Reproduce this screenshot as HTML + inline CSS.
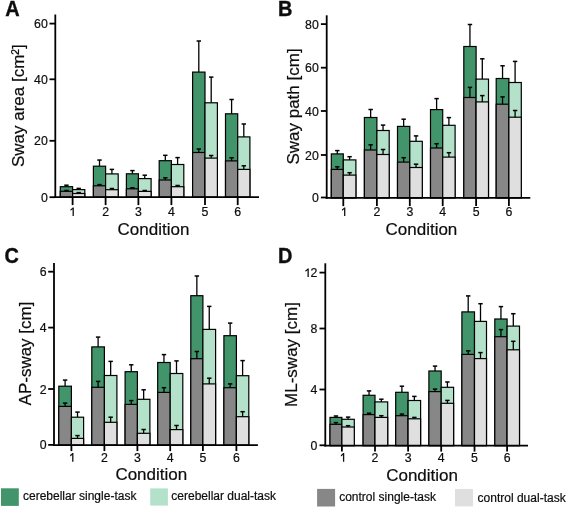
<!DOCTYPE html>
<html><head><meta charset="utf-8"><style>
html,body{margin:0;padding:0;background:#fff;width:567px;height:508px;overflow:hidden}
svg{display:block}
text{font-family:"Liberation Sans",sans-serif;fill:#0d0d0d;stroke:#0d0d0d;stroke-width:0.2px}
svg{will-change:transform}
.tk{font-size:12.3px}
.ct{font-size:17px}
.yl{font-size:17px}
.pl{font-size:21px;font-weight:bold;stroke-width:0.35px}
.lg{font-size:12px}
</style></head><body>
<svg width="567" height="508" viewBox="0 0 567 508">
<rect width="567" height="508" fill="#fff"/>
<g stroke="#000" stroke-width="1.3"><line x1="66.45" y1="186.7" x2="66.45" y2="185.2"/><line x1="64.25" y1="185.2" x2="68.65" y2="185.2" stroke-width="1.5"/></g>
<rect x="60.3" y="186.7" width="12.3" height="10.4" fill="#42946a" stroke="#000" stroke-width="1.2"/>
<rect x="60.3" y="191.3" width="12.3" height="5.8" fill="#878787" stroke="#000" stroke-width="1.2"/>
<g stroke="#000" stroke-width="1.3"><line x1="66.45" y1="191.3" x2="66.45" y2="190.5"/><line x1="64.25" y1="190.5" x2="68.65" y2="190.5" stroke-width="1.5"/></g>
<g stroke="#000" stroke-width="1.3"><line x1="78.7" y1="189.6" x2="78.7" y2="188.4"/><line x1="76.5" y1="188.4" x2="80.9" y2="188.4" stroke-width="1.5"/></g>
<rect x="72.6" y="189.6" width="12.2" height="7.5" fill="#b3e1ca" stroke="#000" stroke-width="1.2"/>
<rect x="72.6" y="193.5" width="12.2" height="3.6" fill="#dfdfdf" stroke="#000" stroke-width="1.2"/>
<g stroke="#000" stroke-width="1.3"><line x1="78.7" y1="193.5" x2="78.7" y2="192.6"/><line x1="76.5" y1="192.6" x2="80.9" y2="192.6" stroke-width="1.5"/></g>
<g stroke="#000" stroke-width="1.3"><line x1="99.5" y1="166.2" x2="99.5" y2="160.05"/><line x1="97.3" y1="160.05" x2="101.7" y2="160.05" stroke-width="1.5"/></g>
<rect x="93.4" y="166.2" width="12.2" height="30.9" fill="#42946a" stroke="#000" stroke-width="1.2"/>
<rect x="93.4" y="185.8" width="12.2" height="11.3" fill="#878787" stroke="#000" stroke-width="1.2"/>
<g stroke="#000" stroke-width="1.3"><line x1="99.5" y1="185.8" x2="99.5" y2="184.6"/><line x1="97.3" y1="184.6" x2="101.7" y2="184.6" stroke-width="1.5"/></g>
<g stroke="#000" stroke-width="1.3"><line x1="111.9" y1="173.9" x2="111.9" y2="169.4"/><line x1="109.7" y1="169.4" x2="114.1" y2="169.4" stroke-width="1.5"/></g>
<rect x="105.6" y="173.9" width="12.6" height="23.2" fill="#b3e1ca" stroke="#000" stroke-width="1.2"/>
<rect x="105.6" y="189.7" width="12.6" height="7.4" fill="#dfdfdf" stroke="#000" stroke-width="1.2"/>
<g stroke="#000" stroke-width="1.3"><line x1="111.9" y1="189.7" x2="111.9" y2="188.5"/><line x1="109.7" y1="188.5" x2="114.1" y2="188.5" stroke-width="1.5"/></g>
<g stroke="#000" stroke-width="1.3"><line x1="132.4" y1="173.8" x2="132.4" y2="170.6"/><line x1="130.2" y1="170.6" x2="134.6" y2="170.6" stroke-width="1.5"/></g>
<rect x="126.4" y="173.8" width="12" height="23.3" fill="#42946a" stroke="#000" stroke-width="1.2"/>
<rect x="126.4" y="188.8" width="12" height="8.3" fill="#878787" stroke="#000" stroke-width="1.2"/>
<g stroke="#000" stroke-width="1.3"><line x1="132.4" y1="188.8" x2="132.4" y2="187.8"/><line x1="130.2" y1="187.8" x2="134.6" y2="187.8" stroke-width="1.5"/></g>
<g stroke="#000" stroke-width="1.3"><line x1="144.75" y1="178.6" x2="144.75" y2="175.2"/><line x1="142.55" y1="175.2" x2="146.95" y2="175.2" stroke-width="1.5"/></g>
<rect x="138.4" y="178.6" width="12.7" height="18.5" fill="#b3e1ca" stroke="#000" stroke-width="1.2"/>
<rect x="138.4" y="191.4" width="12.7" height="5.7" fill="#dfdfdf" stroke="#000" stroke-width="1.2"/>
<g stroke="#000" stroke-width="1.3"><line x1="144.75" y1="191.4" x2="144.75" y2="190.5"/><line x1="142.55" y1="190.5" x2="146.95" y2="190.5" stroke-width="1.5"/></g>
<g stroke="#000" stroke-width="1.3"><line x1="165.3" y1="160.7" x2="165.3" y2="155.3"/><line x1="163.1" y1="155.3" x2="167.5" y2="155.3" stroke-width="1.5"/></g>
<rect x="159.2" y="160.7" width="12.2" height="36.4" fill="#42946a" stroke="#000" stroke-width="1.2"/>
<rect x="159.2" y="180" width="12.2" height="17.1" fill="#878787" stroke="#000" stroke-width="1.2"/>
<g stroke="#000" stroke-width="1.3"><line x1="165.3" y1="180" x2="165.3" y2="177.8"/><line x1="163.1" y1="177.8" x2="167.5" y2="177.8" stroke-width="1.5"/></g>
<g stroke="#000" stroke-width="1.3"><line x1="177.6" y1="164.5" x2="177.6" y2="157.6"/><line x1="175.4" y1="157.6" x2="179.8" y2="157.6" stroke-width="1.5"/></g>
<rect x="171.4" y="164.5" width="12.4" height="32.6" fill="#b3e1ca" stroke="#000" stroke-width="1.2"/>
<rect x="171.4" y="186.7" width="12.4" height="10.4" fill="#dfdfdf" stroke="#000" stroke-width="1.2"/>
<g stroke="#000" stroke-width="1.3"><line x1="177.6" y1="186.7" x2="177.6" y2="185.5"/><line x1="175.4" y1="185.5" x2="179.8" y2="185.5" stroke-width="1.5"/></g>
<g stroke="#000" stroke-width="1.3"><line x1="198.8" y1="72.1" x2="198.8" y2="41"/><line x1="196.6" y1="41" x2="201" y2="41" stroke-width="1.5"/></g>
<rect x="192.6" y="72.1" width="12.4" height="125" fill="#42946a" stroke="#000" stroke-width="1.2"/>
<rect x="192.6" y="152.5" width="12.4" height="44.6" fill="#878787" stroke="#000" stroke-width="1.2"/>
<g stroke="#000" stroke-width="1.3"><line x1="198.8" y1="152.5" x2="198.8" y2="149"/><line x1="196.6" y1="149" x2="201" y2="149" stroke-width="1.5"/></g>
<g stroke="#000" stroke-width="1.3"><line x1="211.2" y1="102.8" x2="211.2" y2="77.1"/><line x1="209" y1="77.1" x2="213.4" y2="77.1" stroke-width="1.5"/></g>
<rect x="205" y="102.8" width="12.4" height="94.3" fill="#b3e1ca" stroke="#000" stroke-width="1.2"/>
<rect x="205" y="158.1" width="12.4" height="39" fill="#dfdfdf" stroke="#000" stroke-width="1.2"/>
<g stroke="#000" stroke-width="1.3"><line x1="211.2" y1="158.1" x2="211.2" y2="155.5"/><line x1="209" y1="155.5" x2="213.4" y2="155.5" stroke-width="1.5"/></g>
<g stroke="#000" stroke-width="1.3"><line x1="231.6" y1="113.8" x2="231.6" y2="99.5"/><line x1="229.4" y1="99.5" x2="233.8" y2="99.5" stroke-width="1.5"/></g>
<rect x="225.5" y="113.8" width="12.2" height="83.3" fill="#42946a" stroke="#000" stroke-width="1.2"/>
<rect x="225.5" y="160.9" width="12.2" height="36.2" fill="#878787" stroke="#000" stroke-width="1.2"/>
<g stroke="#000" stroke-width="1.3"><line x1="231.6" y1="160.9" x2="231.6" y2="157.8"/><line x1="229.4" y1="157.8" x2="233.8" y2="157.8" stroke-width="1.5"/></g>
<g stroke="#000" stroke-width="1.3"><line x1="243.8" y1="136.9" x2="243.8" y2="124"/><line x1="241.6" y1="124" x2="246" y2="124" stroke-width="1.5"/></g>
<rect x="237.7" y="136.9" width="12.2" height="60.2" fill="#b3e1ca" stroke="#000" stroke-width="1.2"/>
<rect x="237.7" y="169.4" width="12.2" height="27.7" fill="#dfdfdf" stroke="#000" stroke-width="1.2"/>
<g stroke="#000" stroke-width="1.3"><line x1="243.8" y1="169.4" x2="243.8" y2="165.8"/><line x1="241.6" y1="165.8" x2="246" y2="165.8" stroke-width="1.5"/></g>
<line x1="55.3" y1="14.5" x2="55.3" y2="198" stroke="#000" stroke-width="1.8"/>
<line x1="54.4" y1="197.1" x2="259" y2="197.1" stroke="#000" stroke-width="1.8"/>
<line x1="49.5" y1="23.6" x2="55.3" y2="23.6" stroke="#000" stroke-width="1.8"/>
<text x="47.8" y="28.1" text-anchor="end" class="tk">60</text>
<line x1="49.5" y1="79.3" x2="55.3" y2="79.3" stroke="#000" stroke-width="1.8"/>
<text x="47.8" y="83.8" text-anchor="end" class="tk">40</text>
<line x1="49.5" y1="140.8" x2="55.3" y2="140.8" stroke="#000" stroke-width="1.8"/>
<text x="47.8" y="145.3" text-anchor="end" class="tk">20</text>
<line x1="49.5" y1="197.2" x2="55.3" y2="197.2" stroke="#000" stroke-width="1.8"/>
<text x="47.8" y="201.7" text-anchor="end" class="tk">0</text>
<line x1="72.6" y1="197.1" x2="72.6" y2="205.1" stroke="#000" stroke-width="1.8"/>
<path d="M73.85 207.4 L73.85 216 L72.55 216 L72.55 209.2 L72.55 209.2 Q71.8 210.1 70.5 210.7 L70.5 209.2 Q71.9 208.5 72.7 207.4 Z" fill="#111"/>
<line x1="105.6" y1="197.1" x2="105.6" y2="205.1" stroke="#000" stroke-width="1.8"/>
<text x="105.6" y="216" text-anchor="middle" class="tk">2</text>
<line x1="138.4" y1="197.1" x2="138.4" y2="205.1" stroke="#000" stroke-width="1.8"/>
<text x="138.4" y="216" text-anchor="middle" class="tk">3</text>
<line x1="171.4" y1="197.1" x2="171.4" y2="205.1" stroke="#000" stroke-width="1.8"/>
<text x="171.4" y="216" text-anchor="middle" class="tk">4</text>
<line x1="205" y1="197.1" x2="205" y2="205.1" stroke="#000" stroke-width="1.8"/>
<text x="205" y="216" text-anchor="middle" class="tk">5</text>
<line x1="237.7" y1="197.1" x2="237.7" y2="205.1" stroke="#000" stroke-width="1.8"/>
<text x="237.7" y="216" text-anchor="middle" class="tk">6</text>
<text x="153.5" y="234.6" text-anchor="middle" class="ct">Condition</text>
<text transform="translate(24.4 105.7) rotate(-90)" text-anchor="middle" class="yl">Sway area [cm²]</text>
<text transform="translate(5.3 15.6) scale(0.95 1.02)" class="pl">A</text>
<g stroke="#000" stroke-width="1.3"><line x1="337.3" y1="153.9" x2="337.3" y2="150.6"/><line x1="335.1" y1="150.6" x2="339.5" y2="150.6" stroke-width="1.5"/></g>
<rect x="331.3" y="153.9" width="12" height="43.9" fill="#42946a" stroke="#000" stroke-width="1.2"/>
<rect x="331.3" y="169.4" width="12" height="28.4" fill="#878787" stroke="#000" stroke-width="1.2"/>
<g stroke="#000" stroke-width="1.3"><line x1="337.3" y1="169.4" x2="337.3" y2="166.8"/><line x1="335.1" y1="166.8" x2="339.5" y2="166.8" stroke-width="1.5"/></g>
<g stroke="#000" stroke-width="1.3"><line x1="349.6" y1="159.9" x2="349.6" y2="156.7"/><line x1="347.4" y1="156.7" x2="351.8" y2="156.7" stroke-width="1.5"/></g>
<rect x="343.3" y="159.9" width="12.6" height="37.9" fill="#b3e1ca" stroke="#000" stroke-width="1.2"/>
<rect x="343.3" y="175.1" width="12.6" height="22.7" fill="#dfdfdf" stroke="#000" stroke-width="1.2"/>
<g stroke="#000" stroke-width="1.3"><line x1="349.6" y1="175.1" x2="349.6" y2="172.7"/><line x1="347.4" y1="172.7" x2="351.8" y2="172.7" stroke-width="1.5"/></g>
<g stroke="#000" stroke-width="1.3"><line x1="370.65" y1="117.5" x2="370.65" y2="109.5"/><line x1="368.45" y1="109.5" x2="372.85" y2="109.5" stroke-width="1.5"/></g>
<rect x="364.4" y="117.5" width="12.5" height="80.3" fill="#42946a" stroke="#000" stroke-width="1.2"/>
<rect x="364.4" y="150" width="12.5" height="47.8" fill="#878787" stroke="#000" stroke-width="1.2"/>
<g stroke="#000" stroke-width="1.3"><line x1="370.65" y1="150" x2="370.65" y2="144.8"/><line x1="368.45" y1="144.8" x2="372.85" y2="144.8" stroke-width="1.5"/></g>
<g stroke="#000" stroke-width="1.3"><line x1="383.05" y1="130.5" x2="383.05" y2="125.1"/><line x1="380.85" y1="125.1" x2="385.25" y2="125.1" stroke-width="1.5"/></g>
<rect x="376.9" y="130.5" width="12.3" height="67.3" fill="#b3e1ca" stroke="#000" stroke-width="1.2"/>
<rect x="376.9" y="154.5" width="12.3" height="43.3" fill="#dfdfdf" stroke="#000" stroke-width="1.2"/>
<g stroke="#000" stroke-width="1.3"><line x1="383.05" y1="154.5" x2="383.05" y2="149.5"/><line x1="380.85" y1="149.5" x2="385.25" y2="149.5" stroke-width="1.5"/></g>
<g stroke="#000" stroke-width="1.3"><line x1="403.65" y1="126.4" x2="403.65" y2="119.2"/><line x1="401.45" y1="119.2" x2="405.85" y2="119.2" stroke-width="1.5"/></g>
<rect x="397.5" y="126.4" width="12.3" height="71.4" fill="#42946a" stroke="#000" stroke-width="1.2"/>
<rect x="397.5" y="162.1" width="12.3" height="35.7" fill="#878787" stroke="#000" stroke-width="1.2"/>
<g stroke="#000" stroke-width="1.3"><line x1="403.65" y1="162.1" x2="403.65" y2="157.7"/><line x1="401.45" y1="157.7" x2="405.85" y2="157.7" stroke-width="1.5"/></g>
<g stroke="#000" stroke-width="1.3"><line x1="416.05" y1="141.3" x2="416.05" y2="135.9"/><line x1="413.85" y1="135.9" x2="418.25" y2="135.9" stroke-width="1.5"/></g>
<rect x="409.8" y="141.3" width="12.5" height="56.5" fill="#b3e1ca" stroke="#000" stroke-width="1.2"/>
<rect x="409.8" y="167.5" width="12.5" height="30.3" fill="#dfdfdf" stroke="#000" stroke-width="1.2"/>
<g stroke="#000" stroke-width="1.3"><line x1="416.05" y1="167.5" x2="416.05" y2="164.2"/><line x1="413.85" y1="164.2" x2="418.25" y2="164.2" stroke-width="1.5"/></g>
<g stroke="#000" stroke-width="1.3"><line x1="436.6" y1="109.6" x2="436.6" y2="98.6"/><line x1="434.4" y1="98.6" x2="438.8" y2="98.6" stroke-width="1.5"/></g>
<rect x="430.5" y="109.6" width="12.2" height="88.2" fill="#42946a" stroke="#000" stroke-width="1.2"/>
<rect x="430.5" y="148" width="12.2" height="49.8" fill="#878787" stroke="#000" stroke-width="1.2"/>
<g stroke="#000" stroke-width="1.3"><line x1="436.6" y1="148" x2="436.6" y2="143.7"/><line x1="434.4" y1="143.7" x2="438.8" y2="143.7" stroke-width="1.5"/></g>
<g stroke="#000" stroke-width="1.3"><line x1="448.9" y1="125.3" x2="448.9" y2="117.6"/><line x1="446.7" y1="117.6" x2="451.1" y2="117.6" stroke-width="1.5"/></g>
<rect x="442.7" y="125.3" width="12.4" height="72.5" fill="#b3e1ca" stroke="#000" stroke-width="1.2"/>
<rect x="442.7" y="157.1" width="12.4" height="40.7" fill="#dfdfdf" stroke="#000" stroke-width="1.2"/>
<g stroke="#000" stroke-width="1.3"><line x1="448.9" y1="157.1" x2="448.9" y2="152.7"/><line x1="446.7" y1="152.7" x2="451.1" y2="152.7" stroke-width="1.5"/></g>
<g stroke="#000" stroke-width="1.3"><line x1="469.95" y1="46.5" x2="469.95" y2="24.5"/><line x1="467.75" y1="24.5" x2="472.15" y2="24.5" stroke-width="1.5"/></g>
<rect x="463.8" y="46.5" width="12.3" height="151.3" fill="#42946a" stroke="#000" stroke-width="1.2"/>
<rect x="463.8" y="97.5" width="12.3" height="100.3" fill="#878787" stroke="#000" stroke-width="1.2"/>
<g stroke="#000" stroke-width="1.3"><line x1="469.95" y1="97.5" x2="469.95" y2="87.4"/><line x1="467.75" y1="87.4" x2="472.15" y2="87.4" stroke-width="1.5"/></g>
<g stroke="#000" stroke-width="1.3"><line x1="482.3" y1="79.1" x2="482.3" y2="58.8"/><line x1="480.1" y1="58.8" x2="484.5" y2="58.8" stroke-width="1.5"/></g>
<rect x="476.1" y="79.1" width="12.4" height="118.7" fill="#b3e1ca" stroke="#000" stroke-width="1.2"/>
<rect x="476.1" y="101.9" width="12.4" height="95.9" fill="#dfdfdf" stroke="#000" stroke-width="1.2"/>
<g stroke="#000" stroke-width="1.3"><line x1="482.3" y1="101.9" x2="482.3" y2="95.6"/><line x1="480.1" y1="95.6" x2="484.5" y2="95.6" stroke-width="1.5"/></g>
<g stroke="#000" stroke-width="1.3"><line x1="502.55" y1="78.5" x2="502.55" y2="65.8"/><line x1="500.35" y1="65.8" x2="504.75" y2="65.8" stroke-width="1.5"/></g>
<rect x="496.2" y="78.5" width="12.7" height="119.3" fill="#42946a" stroke="#000" stroke-width="1.2"/>
<rect x="496.2" y="104.2" width="12.7" height="93.6" fill="#878787" stroke="#000" stroke-width="1.2"/>
<g stroke="#000" stroke-width="1.3"><line x1="502.55" y1="104.2" x2="502.55" y2="96.9"/><line x1="500.35" y1="96.9" x2="504.75" y2="96.9" stroke-width="1.5"/></g>
<g stroke="#000" stroke-width="1.3"><line x1="515.1" y1="82.5" x2="515.1" y2="61.4"/><line x1="512.9" y1="61.4" x2="517.3" y2="61.4" stroke-width="1.5"/></g>
<rect x="508.9" y="82.5" width="12.4" height="115.3" fill="#b3e1ca" stroke="#000" stroke-width="1.2"/>
<rect x="508.9" y="117.2" width="12.4" height="80.6" fill="#dfdfdf" stroke="#000" stroke-width="1.2"/>
<g stroke="#000" stroke-width="1.3"><line x1="515.1" y1="117.2" x2="515.1" y2="110.5"/><line x1="512.9" y1="110.5" x2="517.3" y2="110.5" stroke-width="1.5"/></g>
<line x1="326.7" y1="15.3" x2="326.7" y2="198.7" stroke="#000" stroke-width="1.8"/>
<line x1="325.8" y1="197.8" x2="530.3" y2="197.8" stroke="#000" stroke-width="1.8"/>
<line x1="320.9" y1="24.1" x2="326.7" y2="24.1" stroke="#000" stroke-width="1.8"/>
<text x="318.8" y="28.6" text-anchor="end" class="tk">80</text>
<line x1="320.9" y1="67.7" x2="326.7" y2="67.7" stroke="#000" stroke-width="1.8"/>
<text x="318.8" y="72.2" text-anchor="end" class="tk">60</text>
<line x1="320.9" y1="111" x2="326.7" y2="111" stroke="#000" stroke-width="1.8"/>
<text x="318.8" y="115.5" text-anchor="end" class="tk">40</text>
<line x1="320.9" y1="155" x2="326.7" y2="155" stroke="#000" stroke-width="1.8"/>
<text x="318.8" y="159.5" text-anchor="end" class="tk">20</text>
<line x1="320.9" y1="197.5" x2="326.7" y2="197.5" stroke="#000" stroke-width="1.8"/>
<text x="318.8" y="202" text-anchor="end" class="tk">0</text>
<line x1="343.3" y1="197.8" x2="343.3" y2="206.1" stroke="#000" stroke-width="1.8"/>
<path d="M345.35 207.4 L345.35 216 L344.05 216 L344.05 209.2 L344.05 209.2 Q343.3 210.1 342 210.7 L342 209.2 Q343.4 208.5 344.2 207.4 Z" fill="#111"/>
<line x1="376.9" y1="197.8" x2="376.9" y2="206.1" stroke="#000" stroke-width="1.8"/>
<text x="376.9" y="216" text-anchor="middle" class="tk">2</text>
<line x1="409.8" y1="197.8" x2="409.8" y2="206.1" stroke="#000" stroke-width="1.8"/>
<text x="409.8" y="216" text-anchor="middle" class="tk">3</text>
<line x1="442.7" y1="197.8" x2="442.7" y2="206.1" stroke="#000" stroke-width="1.8"/>
<text x="442.7" y="216" text-anchor="middle" class="tk">4</text>
<line x1="476.1" y1="197.8" x2="476.1" y2="206.1" stroke="#000" stroke-width="1.8"/>
<text x="476.1" y="216" text-anchor="middle" class="tk">5</text>
<line x1="508.9" y1="197.8" x2="508.9" y2="206.1" stroke="#000" stroke-width="1.8"/>
<text x="508.9" y="216" text-anchor="middle" class="tk">6</text>
<text x="421.4" y="234.6" text-anchor="middle" class="ct">Condition</text>
<text transform="translate(298.8 106.5) rotate(-90)" text-anchor="middle" class="yl">Sway path [cm]</text>
<text transform="translate(277.9 15.6) scale(0.95 1.02)" class="pl">B</text>
<g stroke="#000" stroke-width="1.3"><line x1="65.1" y1="386.2" x2="65.1" y2="380.1"/><line x1="62.9" y1="380.1" x2="67.3" y2="380.1" stroke-width="1.5"/></g>
<rect x="58.8" y="386.2" width="12.6" height="58.9" fill="#42946a" stroke="#000" stroke-width="1.2"/>
<rect x="58.8" y="406.4" width="12.6" height="38.7" fill="#878787" stroke="#000" stroke-width="1.2"/>
<g stroke="#000" stroke-width="1.3"><line x1="65.1" y1="406.4" x2="65.1" y2="403.1"/><line x1="62.9" y1="403.1" x2="67.3" y2="403.1" stroke-width="1.5"/></g>
<g stroke="#000" stroke-width="1.3"><line x1="77.5" y1="417.2" x2="77.5" y2="412.1"/><line x1="75.3" y1="412.1" x2="79.7" y2="412.1" stroke-width="1.5"/></g>
<rect x="71.4" y="417.2" width="12.2" height="27.9" fill="#b3e1ca" stroke="#000" stroke-width="1.2"/>
<rect x="71.4" y="438.4" width="12.2" height="6.7" fill="#dfdfdf" stroke="#000" stroke-width="1.2"/>
<g stroke="#000" stroke-width="1.3"><line x1="77.5" y1="438.4" x2="77.5" y2="435.6"/><line x1="75.3" y1="435.6" x2="79.7" y2="435.6" stroke-width="1.5"/></g>
<g stroke="#000" stroke-width="1.3"><line x1="98.1" y1="346.9" x2="98.1" y2="337.1"/><line x1="95.9" y1="337.1" x2="100.3" y2="337.1" stroke-width="1.5"/></g>
<rect x="91.8" y="346.9" width="12.6" height="98.2" fill="#42946a" stroke="#000" stroke-width="1.2"/>
<rect x="91.8" y="387.3" width="12.6" height="57.8" fill="#878787" stroke="#000" stroke-width="1.2"/>
<g stroke="#000" stroke-width="1.3"><line x1="98.1" y1="387.3" x2="98.1" y2="381.4"/><line x1="95.9" y1="381.4" x2="100.3" y2="381.4" stroke-width="1.5"/></g>
<g stroke="#000" stroke-width="1.3"><line x1="110.65" y1="375.5" x2="110.65" y2="361.4"/><line x1="108.45" y1="361.4" x2="112.85" y2="361.4" stroke-width="1.5"/></g>
<rect x="104.4" y="375.5" width="12.5" height="69.6" fill="#b3e1ca" stroke="#000" stroke-width="1.2"/>
<rect x="104.4" y="422.3" width="12.5" height="22.8" fill="#dfdfdf" stroke="#000" stroke-width="1.2"/>
<g stroke="#000" stroke-width="1.3"><line x1="110.65" y1="422.3" x2="110.65" y2="417.2"/><line x1="108.45" y1="417.2" x2="112.85" y2="417.2" stroke-width="1.5"/></g>
<g stroke="#000" stroke-width="1.3"><line x1="131.25" y1="371.7" x2="131.25" y2="364.8"/><line x1="129.05" y1="364.8" x2="133.45" y2="364.8" stroke-width="1.5"/></g>
<rect x="125.1" y="371.7" width="12.3" height="73.4" fill="#42946a" stroke="#000" stroke-width="1.2"/>
<rect x="125.1" y="404.4" width="12.3" height="40.7" fill="#878787" stroke="#000" stroke-width="1.2"/>
<g stroke="#000" stroke-width="1.3"><line x1="131.25" y1="404.4" x2="131.25" y2="400.6"/><line x1="129.05" y1="400.6" x2="133.45" y2="400.6" stroke-width="1.5"/></g>
<g stroke="#000" stroke-width="1.3"><line x1="143.65" y1="399.3" x2="143.65" y2="389.8"/><line x1="141.45" y1="389.8" x2="145.85" y2="389.8" stroke-width="1.5"/></g>
<rect x="137.4" y="399.3" width="12.5" height="45.8" fill="#b3e1ca" stroke="#000" stroke-width="1.2"/>
<rect x="137.4" y="433.3" width="12.5" height="11.8" fill="#dfdfdf" stroke="#000" stroke-width="1.2"/>
<g stroke="#000" stroke-width="1.3"><line x1="143.65" y1="433.3" x2="143.65" y2="429.5"/><line x1="141.45" y1="429.5" x2="145.85" y2="429.5" stroke-width="1.5"/></g>
<g stroke="#000" stroke-width="1.3"><line x1="163.95" y1="362.5" x2="163.95" y2="354.6"/><line x1="161.75" y1="354.6" x2="166.15" y2="354.6" stroke-width="1.5"/></g>
<rect x="157.7" y="362.5" width="12.5" height="82.6" fill="#42946a" stroke="#000" stroke-width="1.2"/>
<rect x="157.7" y="392.4" width="12.5" height="52.7" fill="#878787" stroke="#000" stroke-width="1.2"/>
<g stroke="#000" stroke-width="1.3"><line x1="163.95" y1="392.4" x2="163.95" y2="387.7"/><line x1="161.75" y1="387.7" x2="166.15" y2="387.7" stroke-width="1.5"/></g>
<g stroke="#000" stroke-width="1.3"><line x1="176.5" y1="373.5" x2="176.5" y2="360.9"/><line x1="174.3" y1="360.9" x2="178.7" y2="360.9" stroke-width="1.5"/></g>
<rect x="170.2" y="373.5" width="12.6" height="71.6" fill="#b3e1ca" stroke="#000" stroke-width="1.2"/>
<rect x="170.2" y="429.6" width="12.6" height="15.5" fill="#dfdfdf" stroke="#000" stroke-width="1.2"/>
<g stroke="#000" stroke-width="1.3"><line x1="176.5" y1="429.6" x2="176.5" y2="425.5"/><line x1="174.3" y1="425.5" x2="178.7" y2="425.5" stroke-width="1.5"/></g>
<g stroke="#000" stroke-width="1.3"><line x1="196.85" y1="295.7" x2="196.85" y2="276"/><line x1="194.65" y1="276" x2="199.05" y2="276" stroke-width="1.5"/></g>
<rect x="190.8" y="295.7" width="12.1" height="149.4" fill="#42946a" stroke="#000" stroke-width="1.2"/>
<rect x="190.8" y="358.7" width="12.1" height="86.4" fill="#878787" stroke="#000" stroke-width="1.2"/>
<g stroke="#000" stroke-width="1.3"><line x1="196.85" y1="358.7" x2="196.85" y2="351.5"/><line x1="194.65" y1="351.5" x2="199.05" y2="351.5" stroke-width="1.5"/></g>
<g stroke="#000" stroke-width="1.3"><line x1="209.25" y1="329.4" x2="209.25" y2="306.4"/><line x1="207.05" y1="306.4" x2="211.45" y2="306.4" stroke-width="1.5"/></g>
<rect x="202.9" y="329.4" width="12.7" height="115.7" fill="#b3e1ca" stroke="#000" stroke-width="1.2"/>
<rect x="202.9" y="383.9" width="12.7" height="61.2" fill="#dfdfdf" stroke="#000" stroke-width="1.2"/>
<g stroke="#000" stroke-width="1.3"><line x1="209.25" y1="383.9" x2="209.25" y2="378.2"/><line x1="207.05" y1="378.2" x2="211.45" y2="378.2" stroke-width="1.5"/></g>
<g stroke="#000" stroke-width="1.3"><line x1="230.15" y1="335.7" x2="230.15" y2="323.1"/><line x1="227.95" y1="323.1" x2="232.35" y2="323.1" stroke-width="1.5"/></g>
<rect x="223.9" y="335.7" width="12.5" height="109.4" fill="#42946a" stroke="#000" stroke-width="1.2"/>
<rect x="223.9" y="387.7" width="12.5" height="57.4" fill="#878787" stroke="#000" stroke-width="1.2"/>
<g stroke="#000" stroke-width="1.3"><line x1="230.15" y1="387.7" x2="230.15" y2="383.9"/><line x1="227.95" y1="383.9" x2="232.35" y2="383.9" stroke-width="1.5"/></g>
<g stroke="#000" stroke-width="1.3"><line x1="242.6" y1="375.7" x2="242.6" y2="360.6"/><line x1="240.4" y1="360.6" x2="244.8" y2="360.6" stroke-width="1.5"/></g>
<rect x="236.4" y="375.7" width="12.4" height="69.4" fill="#b3e1ca" stroke="#000" stroke-width="1.2"/>
<rect x="236.4" y="416.7" width="12.4" height="28.4" fill="#dfdfdf" stroke="#000" stroke-width="1.2"/>
<g stroke="#000" stroke-width="1.3"><line x1="242.6" y1="416.7" x2="242.6" y2="411.7"/><line x1="240.4" y1="411.7" x2="244.8" y2="411.7" stroke-width="1.5"/></g>
<line x1="54" y1="262.9" x2="54" y2="446" stroke="#000" stroke-width="1.8"/>
<line x1="53.1" y1="445.1" x2="257.9" y2="445.1" stroke="#000" stroke-width="1.8"/>
<line x1="48.2" y1="271.7" x2="54" y2="271.7" stroke="#000" stroke-width="1.8"/>
<text x="46.7" y="276.2" text-anchor="end" class="tk">6</text>
<line x1="48.2" y1="327.6" x2="54" y2="327.6" stroke="#000" stroke-width="1.8"/>
<text x="46.7" y="332.1" text-anchor="end" class="tk">4</text>
<line x1="48.2" y1="389" x2="54" y2="389" stroke="#000" stroke-width="1.8"/>
<text x="46.7" y="393.5" text-anchor="end" class="tk">2</text>
<line x1="48.2" y1="444.9" x2="54" y2="444.9" stroke="#000" stroke-width="1.8"/>
<text x="46.7" y="449.4" text-anchor="end" class="tk">0</text>
<line x1="71.4" y1="445.1" x2="71.4" y2="451.1" stroke="#000" stroke-width="1.8"/>
<path d="M73.45 453.1 L73.45 461.7 L72.15 461.7 L72.15 454.9 L72.15 454.9 Q71.4 455.8 70.1 456.4 L70.1 454.9 Q71.5 454.2 72.3 453.1 Z" fill="#111"/>
<line x1="104.4" y1="445.1" x2="104.4" y2="451.1" stroke="#000" stroke-width="1.8"/>
<text x="104.4" y="461.7" text-anchor="middle" class="tk">2</text>
<line x1="137.4" y1="445.1" x2="137.4" y2="451.1" stroke="#000" stroke-width="1.8"/>
<text x="137.4" y="461.7" text-anchor="middle" class="tk">3</text>
<line x1="170.2" y1="445.1" x2="170.2" y2="451.1" stroke="#000" stroke-width="1.8"/>
<text x="170.2" y="461.7" text-anchor="middle" class="tk">4</text>
<line x1="202.9" y1="445.1" x2="202.9" y2="451.1" stroke="#000" stroke-width="1.8"/>
<text x="202.9" y="461.7" text-anchor="middle" class="tk">5</text>
<line x1="236.4" y1="445.1" x2="236.4" y2="451.1" stroke="#000" stroke-width="1.8"/>
<text x="236.4" y="461.7" text-anchor="middle" class="tk">6</text>
<text x="151.3" y="479.9" text-anchor="middle" class="ct">Condition</text>
<text transform="translate(30.6 353.5) rotate(-90)" text-anchor="middle" class="yl">AP-sway [cm]</text>
<text transform="translate(4.6 262.8) scale(0.95 1.02)" class="pl">C</text>
<g stroke="#000" stroke-width="1.3"><line x1="335.95" y1="417.4" x2="335.95" y2="416"/><line x1="333.75" y1="416" x2="338.15" y2="416" stroke-width="1.5"/></g>
<rect x="330" y="417.4" width="11.9" height="28.2" fill="#42946a" stroke="#000" stroke-width="1.2"/>
<rect x="330" y="424.3" width="11.9" height="21.3" fill="#878787" stroke="#000" stroke-width="1.2"/>
<g stroke="#000" stroke-width="1.3"><line x1="335.95" y1="424.3" x2="335.95" y2="422.6"/><line x1="333.75" y1="422.6" x2="338.15" y2="422.6" stroke-width="1.5"/></g>
<g stroke="#000" stroke-width="1.3"><line x1="348.1" y1="419.3" x2="348.1" y2="417.1"/><line x1="345.9" y1="417.1" x2="350.3" y2="417.1" stroke-width="1.5"/></g>
<rect x="341.9" y="419.3" width="12.4" height="26.3" fill="#b3e1ca" stroke="#000" stroke-width="1.2"/>
<rect x="341.9" y="427" width="12.4" height="18.6" fill="#dfdfdf" stroke="#000" stroke-width="1.2"/>
<g stroke="#000" stroke-width="1.3"><line x1="348.1" y1="427" x2="348.1" y2="425.7"/><line x1="345.9" y1="425.7" x2="350.3" y2="425.7" stroke-width="1.5"/></g>
<g stroke="#000" stroke-width="1.3"><line x1="369.05" y1="395.3" x2="369.05" y2="390.9"/><line x1="366.85" y1="390.9" x2="371.25" y2="390.9" stroke-width="1.5"/></g>
<rect x="363.1" y="395.3" width="11.9" height="50.3" fill="#42946a" stroke="#000" stroke-width="1.2"/>
<rect x="363.1" y="414.6" width="11.9" height="31" fill="#878787" stroke="#000" stroke-width="1.2"/>
<g stroke="#000" stroke-width="1.3"><line x1="369.05" y1="414.6" x2="369.05" y2="413.2"/><line x1="366.85" y1="413.2" x2="371.25" y2="413.2" stroke-width="1.5"/></g>
<g stroke="#000" stroke-width="1.3"><line x1="381.35" y1="401.9" x2="381.35" y2="399.2"/><line x1="379.15" y1="399.2" x2="383.55" y2="399.2" stroke-width="1.5"/></g>
<rect x="375" y="401.9" width="12.7" height="43.7" fill="#b3e1ca" stroke="#000" stroke-width="1.2"/>
<rect x="375" y="417.4" width="12.7" height="28.2" fill="#dfdfdf" stroke="#000" stroke-width="1.2"/>
<g stroke="#000" stroke-width="1.3"><line x1="381.35" y1="417.4" x2="381.35" y2="415.7"/><line x1="379.15" y1="415.7" x2="383.55" y2="415.7" stroke-width="1.5"/></g>
<g stroke="#000" stroke-width="1.3"><line x1="401.9" y1="392.3" x2="401.9" y2="386.2"/><line x1="399.7" y1="386.2" x2="404.1" y2="386.2" stroke-width="1.5"/></g>
<rect x="395.7" y="392.3" width="12.4" height="53.3" fill="#42946a" stroke="#000" stroke-width="1.2"/>
<rect x="395.7" y="415.7" width="12.4" height="29.9" fill="#878787" stroke="#000" stroke-width="1.2"/>
<g stroke="#000" stroke-width="1.3"><line x1="401.9" y1="415.7" x2="401.9" y2="414.1"/><line x1="399.7" y1="414.1" x2="404.1" y2="414.1" stroke-width="1.5"/></g>
<g stroke="#000" stroke-width="1.3"><line x1="414.35" y1="400.5" x2="414.35" y2="396.4"/><line x1="412.15" y1="396.4" x2="416.55" y2="396.4" stroke-width="1.5"/></g>
<rect x="408.1" y="400.5" width="12.5" height="45.1" fill="#b3e1ca" stroke="#000" stroke-width="1.2"/>
<rect x="408.1" y="418.8" width="12.5" height="26.8" fill="#dfdfdf" stroke="#000" stroke-width="1.2"/>
<g stroke="#000" stroke-width="1.3"><line x1="414.35" y1="418.8" x2="414.35" y2="417.4"/><line x1="412.15" y1="417.4" x2="416.55" y2="417.4" stroke-width="1.5"/></g>
<g stroke="#000" stroke-width="1.3"><line x1="435.05" y1="371" x2="435.05" y2="366.1"/><line x1="432.85" y1="366.1" x2="437.25" y2="366.1" stroke-width="1.5"/></g>
<rect x="428.9" y="371" width="12.3" height="74.6" fill="#42946a" stroke="#000" stroke-width="1.2"/>
<rect x="428.9" y="391.6" width="12.3" height="54" fill="#878787" stroke="#000" stroke-width="1.2"/>
<g stroke="#000" stroke-width="1.3"><line x1="435.05" y1="391.6" x2="435.05" y2="389.1"/><line x1="432.85" y1="389.1" x2="437.25" y2="389.1" stroke-width="1.5"/></g>
<g stroke="#000" stroke-width="1.3"><line x1="447.4" y1="387.3" x2="447.4" y2="382"/><line x1="445.2" y1="382" x2="449.6" y2="382" stroke-width="1.5"/></g>
<rect x="441.2" y="387.3" width="12.4" height="58.3" fill="#b3e1ca" stroke="#000" stroke-width="1.2"/>
<rect x="441.2" y="403.3" width="12.4" height="42.3" fill="#dfdfdf" stroke="#000" stroke-width="1.2"/>
<g stroke="#000" stroke-width="1.3"><line x1="447.4" y1="403.3" x2="447.4" y2="400.4"/><line x1="445.2" y1="400.4" x2="449.6" y2="400.4" stroke-width="1.5"/></g>
<g stroke="#000" stroke-width="1.3"><line x1="468.2" y1="311.9" x2="468.2" y2="295.9"/><line x1="466" y1="295.9" x2="470.4" y2="295.9" stroke-width="1.5"/></g>
<rect x="461.9" y="311.9" width="12.6" height="133.7" fill="#42946a" stroke="#000" stroke-width="1.2"/>
<rect x="461.9" y="354.4" width="12.6" height="91.2" fill="#878787" stroke="#000" stroke-width="1.2"/>
<g stroke="#000" stroke-width="1.3"><line x1="468.2" y1="354.4" x2="468.2" y2="350.8"/><line x1="466" y1="350.8" x2="470.4" y2="350.8" stroke-width="1.5"/></g>
<g stroke="#000" stroke-width="1.3"><line x1="480.5" y1="321.4" x2="480.5" y2="303.7"/><line x1="478.3" y1="303.7" x2="482.7" y2="303.7" stroke-width="1.5"/></g>
<rect x="474.5" y="321.4" width="12" height="124.2" fill="#b3e1ca" stroke="#000" stroke-width="1.2"/>
<rect x="474.5" y="358.6" width="12" height="87" fill="#dfdfdf" stroke="#000" stroke-width="1.2"/>
<g stroke="#000" stroke-width="1.3"><line x1="480.5" y1="358.6" x2="480.5" y2="352.6"/><line x1="478.3" y1="352.6" x2="482.7" y2="352.6" stroke-width="1.5"/></g>
<g stroke="#000" stroke-width="1.3"><line x1="500.95" y1="319" x2="500.95" y2="306.6"/><line x1="498.75" y1="306.6" x2="503.15" y2="306.6" stroke-width="1.5"/></g>
<rect x="494.8" y="319" width="12.3" height="126.6" fill="#42946a" stroke="#000" stroke-width="1.2"/>
<rect x="494.8" y="336.7" width="12.3" height="108.9" fill="#878787" stroke="#000" stroke-width="1.2"/>
<g stroke="#000" stroke-width="1.3"><line x1="500.95" y1="336.7" x2="500.95" y2="329.6"/><line x1="498.75" y1="329.6" x2="503.15" y2="329.6" stroke-width="1.5"/></g>
<g stroke="#000" stroke-width="1.3"><line x1="513.3" y1="326.1" x2="513.3" y2="313.7"/><line x1="511.1" y1="313.7" x2="515.5" y2="313.7" stroke-width="1.5"/></g>
<rect x="507.1" y="326.1" width="12.4" height="119.5" fill="#b3e1ca" stroke="#000" stroke-width="1.2"/>
<rect x="507.1" y="349.8" width="12.4" height="95.8" fill="#dfdfdf" stroke="#000" stroke-width="1.2"/>
<g stroke="#000" stroke-width="1.3"><line x1="513.3" y1="349.8" x2="513.3" y2="341.3"/><line x1="511.1" y1="341.3" x2="515.5" y2="341.3" stroke-width="1.5"/></g>
<line x1="325.3" y1="263.3" x2="325.3" y2="446.5" stroke="#000" stroke-width="1.8"/>
<line x1="324.4" y1="445.6" x2="528" y2="445.6" stroke="#000" stroke-width="1.8"/>
<line x1="319.5" y1="272.6" x2="325.3" y2="272.6" stroke="#000" stroke-width="1.8"/>
<text x="317.3" y="277.1" text-anchor="end" class="tk">2</text>
<path d="M308.79 268.5 L308.79 277.1 L307.49 277.1 L307.49 270.3 L307.49 270.3 Q306.74 271.2 305.44 271.8 L305.44 270.3 Q306.84 269.6 307.64 268.5 Z" fill="#111"/>
<line x1="319.5" y1="328.5" x2="325.3" y2="328.5" stroke="#000" stroke-width="1.8"/>
<text x="317.3" y="333" text-anchor="end" class="tk">8</text>
<line x1="319.5" y1="389.5" x2="325.3" y2="389.5" stroke="#000" stroke-width="1.8"/>
<text x="317.3" y="394" text-anchor="end" class="tk">4</text>
<line x1="319.5" y1="445.3" x2="325.3" y2="445.3" stroke="#000" stroke-width="1.8"/>
<text x="317.3" y="449.8" text-anchor="end" class="tk">0</text>
<line x1="341.9" y1="445.6" x2="341.9" y2="451.6" stroke="#000" stroke-width="1.8"/>
<path d="M344.25 453.1 L344.25 461.7 L342.95 461.7 L342.95 454.9 L342.95 454.9 Q342.2 455.8 340.9 456.4 L340.9 454.9 Q342.3 454.2 343.1 453.1 Z" fill="#111"/>
<line x1="375" y1="445.6" x2="375" y2="451.6" stroke="#000" stroke-width="1.8"/>
<text x="375" y="461.7" text-anchor="middle" class="tk">2</text>
<line x1="408.1" y1="445.6" x2="408.1" y2="451.6" stroke="#000" stroke-width="1.8"/>
<text x="408.1" y="461.7" text-anchor="middle" class="tk">3</text>
<line x1="441.2" y1="445.6" x2="441.2" y2="451.6" stroke="#000" stroke-width="1.8"/>
<text x="441.2" y="461.7" text-anchor="middle" class="tk">4</text>
<line x1="474.5" y1="445.6" x2="474.5" y2="451.6" stroke="#000" stroke-width="1.8"/>
<text x="474.5" y="461.7" text-anchor="middle" class="tk">5</text>
<line x1="507.1" y1="445.6" x2="507.1" y2="451.6" stroke="#000" stroke-width="1.8"/>
<text x="507.1" y="461.7" text-anchor="middle" class="tk">6</text>
<text x="422.1" y="480.5" text-anchor="middle" class="ct">Condition</text>
<text transform="translate(297.25 354.5) rotate(-90)" text-anchor="middle" class="yl">ML-sway [cm]</text>
<text transform="translate(277.9 263) scale(0.95 1.02)" class="pl">D</text>

<rect x="1" y="488.3" width="17.8" height="17.6" fill="#42946a"/>
<text x="23" y="500.2" class="lg">cerebellar single-task</text>
<rect x="150.2" y="488.4" width="17.7" height="17.2" fill="#b3e1ca"/>
<text x="171.3" y="500.3" class="lg">cerebellar dual-task</text>
<rect x="317.1" y="488.9" width="18" height="17.6" fill="#878787"/>
<text x="339.2" y="500.9" class="lg">control single-task</text>
<rect x="455" y="489" width="18" height="17.4" fill="#dfdfdf"/>
<text x="477.6" y="502" class="lg">control dual-task</text>

</svg>
</body></html>
